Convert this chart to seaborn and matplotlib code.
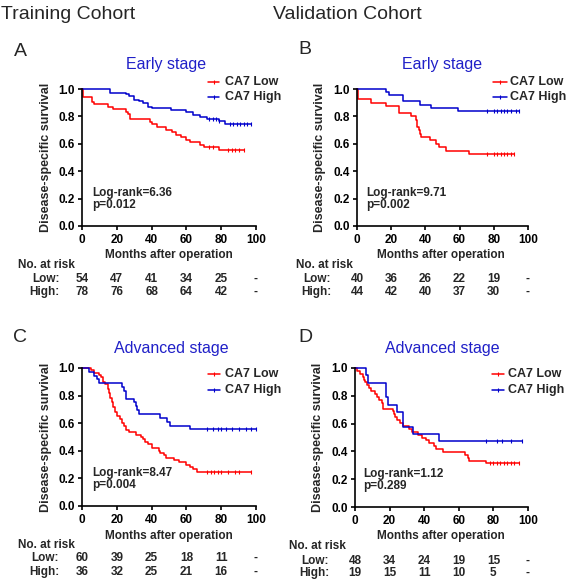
import numpy as np
import pandas as pd
import matplotlib
matplotlib.use('Agg')
import matplotlib.pyplot as plt
import seaborn as sns
from matplotlib.lines import Line2D

# --- values (Kaplan-Meier steps) ---
# A: training cohort, early stage
A_LOW_T = [0.5, 6, 7, 15, 18, 25, 26.5, 27.5, 39, 40, 43, 48, 51.5, 54, 57, 60, 62, 68, 70, 79]
A_LOW_S = [0.944, 0.907, 0.889, 0.870, 0.852, 0.833, 0.815, 0.778, 0.759, 0.741, 0.722, 0.704,
           0.685, 0.667, 0.648, 0.630, 0.611, 0.593, 0.574, 0.556]
A_LOW_CENS = [73, 75, 84, 86, 88, 90, 93]
A_HIGH_T = [16, 25, 27, 30, 33, 35, 38, 40, 51, 60, 64, 68, 72, 79, 82]
A_HIGH_S = [0.974, 0.962, 0.949, 0.923, 0.910, 0.897, 0.872, 0.859, 0.846, 0.833, 0.808, 0.795,
            0.782, 0.769, 0.744]
A_HIGH_CENS = [73, 75, 77, 79, 85, 87, 89, 91, 93, 95, 97]

# B: validation cohort, early stage
B_LOW_T = [0.5, 8.4, 16.8, 24.6, 31.8, 34.7, 35.3, 36.3, 37, 37.6, 42.5, 46, 48, 52.2, 65.3]
B_LOW_S = [0.925, 0.900, 0.875, 0.825, 0.800, 0.775, 0.725, 0.700, 0.675, 0.650, 0.625, 0.600,
           0.575, 0.550, 0.525]
B_LOW_CENS = [76, 80, 82, 84, 86, 88, 90, 92]
B_HIGH_T = [16.8, 19, 27, 36.6, 43.5, 59]
B_HIGH_S = [0.977, 0.955, 0.909, 0.886, 0.864, 0.841]
B_HIGH_CENS = [76, 80, 82, 84, 86, 88, 90, 93, 95]

# C: training cohort, advanced stage
C_LOW_T = [5, 7, 10, 11, 12, 13, 15, 15.5, 16, 17, 18, 19, 20, 22, 23, 24, 25, 27, 31, 34, 35,
           36, 38, 40, 44, 45, 47, 48, 53, 56, 60, 62, 64, 66]
C_LOW_S = [0.983, 0.967, 0.950, 0.933, 0.900, 0.883, 0.850, 0.817, 0.783, 0.750, 0.717, 0.683,
           0.650, 0.633, 0.600, 0.583, 0.550, 0.533, 0.517, 0.500, 0.483, 0.467, 0.450, 0.417,
           0.400, 0.383, 0.367, 0.350, 0.333, 0.317, 0.300, 0.283, 0.267, 0.250]
C_LOW_CENS = [72, 74, 76, 78, 80, 84, 88, 90, 97]
C_HIGH_T = [4, 7, 8.5, 9.5, 23, 24, 25.5, 29.7, 31, 31.6, 32.6, 45, 49, 50.8, 62]
C_HIGH_S = [0.972, 0.944, 0.917, 0.889, 0.861, 0.833, 0.778, 0.750, 0.722, 0.694, 0.667, 0.639,
            0.611, 0.583, 0.556]
C_HIGH_CENS = [72, 75, 78, 80, 83, 86, 90, 94, 97, 100]

# D: validation cohort, advanced stage
D_LOW_T = [1, 3, 4.5, 5, 6, 7, 8, 9.5, 11.5, 13, 14, 15.4, 16.3, 22, 22.5, 23, 24.4, 26, 28, 31,
           33, 36.5, 39, 41, 43, 45.5, 47, 51, 63.5, 65.4, 66, 76]
D_LOW_S = [0.979, 0.958, 0.938, 0.917, 0.896, 0.875, 0.854, 0.833, 0.813, 0.792, 0.771, 0.750,
           0.708, 0.688, 0.667, 0.646, 0.625, 0.604, 0.583, 0.563, 0.542, 0.521, 0.500, 0.479,
           0.458, 0.438, 0.417, 0.396, 0.375, 0.354, 0.333, 0.313]
D_LOW_CENS = [78, 80, 82, 84, 86, 88, 90, 92, 95]
D_HIGH_T = [6.3, 7.7, 18, 19.2, 24, 27.9, 33.7, 48.7]
D_HIGH_S = [0.947, 0.895, 0.789, 0.737, 0.684, 0.579, 0.526, 0.474]
D_HIGH_CENS = [76, 82, 85, 90, 96.5]

STAGES = ['Early stage', 'Early stage', 'Advanced stage', 'Advanced stage']
LOGRANK = ['6.36', '9.71', '8.47', '1.12']
PVALUES = ['0.012', '0.002', '0.004', '0.289']
RISK_MONTHS = [0, 20, 40, 60, 80, 100]
A_RISK_LOW = ['54', '47', '41', '34', '25', '-']
A_RISK_HIGH = ['78', '76', '68', '64', '42', '-']
B_RISK_LOW = ['40', '36', '26', '22', '19', '-']
B_RISK_HIGH = ['44', '42', '40', '37', '30', '-']
C_RISK_LOW = ['60', '39', '25', '18', '11', '-']
C_RISK_HIGH = ['36', '32', '25', '21', '16', '-']
D_RISK_LOW = ['48', '34', '24', '19', '15', '-']
D_RISK_HIGH = ['19', '15', '11', '10', '5', '-']

RED = '#ff0000'
BLUE = '#0000cc'
TITLE_BLUE = '#2020c8'

sns.set_style('ticks')
plt.rcParams['font.family'] = ['Liberation Sans', 'DejaVu Sans']

W, H = 567, 584
fig = plt.figure(figsize=(W / 100, H / 100), dpi=100)


def fx(px):
    return px / W


def fy(py):
    return 1 - py / H


def step_frame(times, surv, end):
    t = [0] + list(times) + [end]
    s = [1.0] + list(surv) + [surv[-1]]
    return pd.DataFrame({'Months': t, 'Survival': s})


def censor_frame(times, surv, cens):
    t = np.array([0] + list(times))
    s = np.array([1.0] + list(surv))
    idx = np.searchsorted(t, cens, side='right') - 1
    return pd.DataFrame({'Months': cens, 'Survival': s[idx]})


curves = [
    ((A_LOW_T, A_LOW_S, A_LOW_CENS), (A_HIGH_T, A_HIGH_S, A_HIGH_CENS)),
    ((B_LOW_T, B_LOW_S, B_LOW_CENS), (B_HIGH_T, B_HIGH_S, B_HIGH_CENS)),
    ((C_LOW_T, C_LOW_S, C_LOW_CENS), (C_HIGH_T, C_HIGH_S, C_HIGH_CENS)),
    ((D_LOW_T, D_LOW_S, D_LOW_CENS), (D_HIGH_T, D_HIGH_S, D_HIGH_CENS)),
]
risks = [(A_RISK_LOW, A_RISK_HIGH), (B_RISK_LOW, B_RISK_HIGH),
         (C_RISK_LOW, C_RISK_HIGH), (D_RISK_LOW, D_RISK_HIGH)]

# layout in pixels (left, top, right, bottom of axes, then text anchors)
layout = [
    dict(box=(82, 89, 256, 226), letter='A', lxy=(20, 51.5), title=(166, 69), leg=(208, 219, 225, 82, 97),
         lr=(92, 195.7, 208.3), xl=(169, 255), yl=46.5, risk=(18, 265, 60, 279, 292)),
    dict(box=(357, 89, 528, 226), letter='B', lxy=(305, 50), title=(442, 69), leg=(493, 507, 510, 82, 97),
         lr=(366, 195.7, 208.3), xl=(441, 255), yl=319.5, risk=(296, 265, 331, 279, 292)),
    dict(box=(82, 368, 256, 506), letter='C', lxy=(19.5, 337.5), title=(171, 353.3), leg=(208, 220, 225, 374, 390),
         lr=(92, 475.7, 488.3), xl=(169, 535.5), yl=46.5, risk=(18, 545, 59, 558, 572)),
    dict(box=(355, 368, 528, 507), letter='D', lxy=(305.8, 337.5), title=(442, 353.3), leg=(492, 504, 508, 374, 390),
         lr=(363, 476.7, 489), xl=(441, 536), yl=317.5, risk=(289, 546, 329, 561, 573)),
]

fig.text(fx(1), fy(19), 'Training Cohort', fontsize=14, ha='left', va='baseline')
fig.text(fx(273), fy(19), 'Validation Cohort', fontsize=14, ha='left', va='baseline')

for i, lay in enumerate(layout):
    l, t, r, b = lay['box']
    ax = fig.add_axes([fx(l), fy(b), fx(r) - fx(l), fy(t) - fy(b)])
    for (times, surv, cens), color in zip(curves[i], [RED, BLUE]):
        end = max(cens)
        sns.lineplot(data=step_frame(times, surv, end), x='Months', y='Survival',
                     drawstyle='steps-post', estimator=None, sort=False,
                     color=color, lw=1.1, ax=ax, clip_on=False)
        sns.scatterplot(data=censor_frame(times, surv, cens), x='Months', y='Survival',
                        marker='|', color=color, s=12, linewidth=0.8, ax=ax, clip_on=False)
    ax.set_xlim(0, 100)
    ax.set_ylim(0, 1)
    ax.set_xticks(RISK_MONTHS)
    ax.set_yticks([0, 0.2, 0.4, 0.6, 0.8, 1.0])
    ax.set_yticklabels(['0.0', '0.2', '0.4', '0.6', '0.8', '1.0'])
    ax.set_xlabel('')
    ax.set_ylabel('')
    sns.despine(ax=ax)
    for sp in ['left', 'bottom']:
        ax.spines[sp].set_linewidth(1.2)
        ax.spines[sp].set_color('black')
    ax.tick_params(direction='out', length=3, width=1.2, labelsize=8.5, colors='black')
    ax.tick_params(axis='x', pad=3)
    ax.tick_params(axis='y', pad=2)
    for lab in ax.get_xticklabels() + ax.get_yticklabels():
        lab.set_fontweight('bold')

    # panel letter, stage title
    fig.text(fx(lay['lxy'][0]), fy(lay['lxy'][1]), lay['letter'], fontsize=14, ha='center', va='center')
    fig.text(fx(lay['title'][0]), fy(lay['title'][1]), STAGES[i], fontsize=11.5, color=TITLE_BLUE,
             ha='center', va='baseline')

    # legend drawn by hand
    x0, x1, xt, yl_low, yl_high = lay['leg']
    for name, color, yy in [('CA7 Low', RED, yl_low), ('CA7 High', BLUE, yl_high)]:
        fig.add_artist(Line2D([fx(x0), fx(x1)], [fy(yy), fy(yy)], color=color, lw=1.1))
        fig.add_artist(Line2D([fx((x0 + x1) / 2)], [fy(yy)], color=color, marker='|', ms=3.5, mew=0.8))
        fig.text(fx(xt), fy(yy), name, fontsize=9, fontweight='bold', ha='left', va='center')

    # log-rank annotation
    lx, b1, b2 = lay['lr']
    fig.text(fx(lx), fy(b1), 'Log-rank=' + LOGRANK[i], fontsize=8.5, fontweight='bold', va='baseline')
    fig.text(fx(lx), fy(b2), 'p=' + PVALUES[i], fontsize=8.5, fontweight='bold', va='baseline')

    # axis labels
    fig.text(fx(lay['xl'][0]), fy(lay['xl'][1]), 'Months after operation', fontsize=8.5,
             fontweight='bold', ha='center', va='center')
    fig.text(fx(lay['yl']), fy((t + b) / 2), 'Disease-specific survival', fontsize=9,
             fontweight='bold', ha='center', va='center', rotation=90)

    # number at risk table
    hx, hy, rx, ylow, yhigh = lay['risk']
    fig.text(fx(hx), fy(hy), 'No. at risk', fontsize=8.5, fontweight='bold', ha='left', va='center')
    low_vals, high_vals = risks[i]
    for row_name, vals, yy in [('Low:', low_vals, ylow), ('High:', high_vals, yhigh)]:
        fig.text(fx(rx), fy(yy), row_name, fontsize=8.5, fontweight='bold', ha='right', va='center')
        for m, v in zip(RISK_MONTHS, vals):
            px = l + (r - l) * m / 100
            fig.text(fx(px), fy(yy), v, fontsize=8.5, fontweight='bold', ha='center', va='center')

fig.savefig('out.png', dpi=100)
